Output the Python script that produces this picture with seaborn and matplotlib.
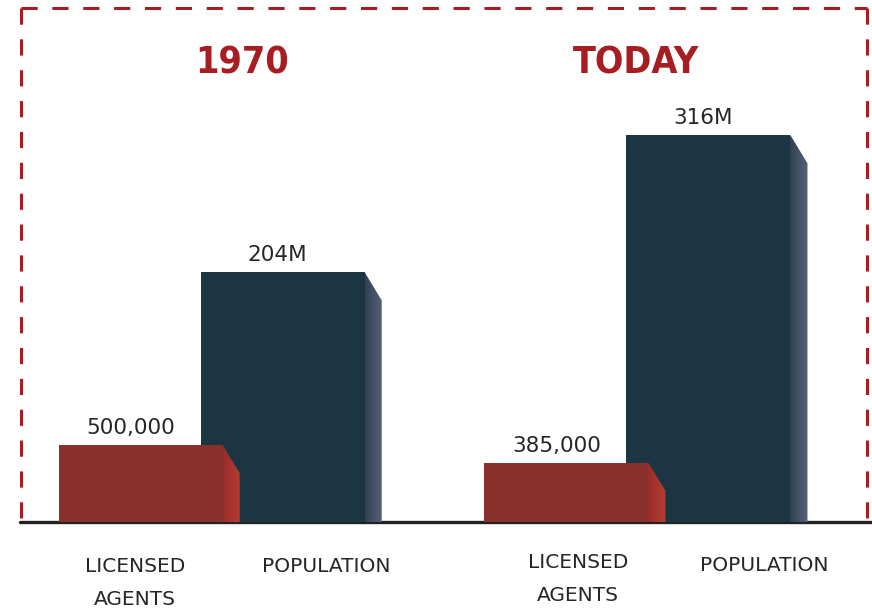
import numpy as np
import matplotlib
matplotlib.use("Agg")
import matplotlib.pyplot as plt
from matplotlib.lines import Line2D
from matplotlib.patches import Polygon
from matplotlib.colors import LinearSegmentedColormap
from matplotlib import font_manager
import seaborn as sns

# ── data ──────────────────────────────────────────────
periods = ["1970", "TODAY"]
agents = [500000, 385000]
population = [204, 316]           # millions
agent_labels = ["500,000", "385,000"]
pop_labels = ["204M", "316M"]
cat_agents = "LICENSED\nAGENTS"
cat_pop = "POPULATION"

# ── style ─────────────────────────────────────────────
sns.set_style("white")
plt.rcParams["font.family"] = ["DejaVu Sans"]

cond = [f for f in font_manager.fontManager.ttflist
        if ("Cond" in f.fname or "Narrow" in f.fname) and "Bold" in f.fname]
title_font = font_manager.FontProperties(fname=cond[0].fname) if cond else None

RED = "#892f2c"
NAVY = "#1b3642"
BORDER = "#a61e22"
TEXT = "#262626"

W, H = 872, 613
fig = plt.figure(figsize=(W / 100, H / 100), dpi=100)

base_px, top_px = 522, 8
ax_h_px = base_px - top_px
ax = fig.add_axes([0, (H - base_px) / H, 1, ax_h_px / H])
ax2 = ax.twinx()

group_px = 425.5
bar_w = 164 / group_px
off = 71 / group_px
side_dx = 17 / group_px
side_drop = 28  # px

groups = np.arange(len(periods))

sns.barplot(x=groups + off, y=population, native_scale=True, width=bar_w,
            color=NAVY, saturation=1, linewidth=0, errorbar=None, ax=ax, zorder=3)
sns.barplot(x=groups - off, y=agents, native_scale=True, width=bar_w,
            color=RED, saturation=1, linewidth=0, errorbar=None, ax=ax2, zorder=3)

pop_lim = (0, 420)
agent_lim = (0, 3.34e6)


def add_sides(axis, ylim, cmap):
    ypp = (ylim[1] - ylim[0]) / ax_h_px
    pad = 2 / group_px
    for p in list(axis.patches):
        x1 = p.get_x() + p.get_width()
        top = p.get_height()
        dy = side_drop * ypp
        verts = [(x1 - pad, 0), (x1 - pad, top), (x1, top),
                 (x1 + side_dx, top - dy), (x1 + side_dx, 0)]
        poly = Polygon(verts, closed=True, facecolor="none", edgecolor="none")
        axis.add_patch(poly)
        grad = np.linspace(0, 1, 64).reshape(1, -1)
        im = axis.imshow(grad, cmap=cmap, extent=(x1 - pad, x1 + side_dx, 0, top),
                         aspect="auto", origin="lower", zorder=2.5)
        im.set_clip_path(poly)


add_sides(ax, pop_lim, LinearSegmentedColormap.from_list("ps", ["#2e3c4d", "#56627a"]))
add_sides(ax2, agent_lim, LinearSegmentedColormap.from_list("as", ["#962a2b", "#b83e31"]))

xl = (-211.5 / group_px, 1 + (W - 637.5) / group_px)
for a, yl in ((ax, pop_lim), (ax2, agent_lim)):
    a.set_xlim(*xl)
    a.set_ylim(*yl)
    a.axis("off")

# baseline
ax.axhline(0, xmin=20 / W, xmax=1, color="#222222", lw=2.4, zorder=1, clip_on=False)

# value labels
for i in groups:
    ax.annotate(pop_labels[i], (i + off, population[i]), xytext=(-4, 5),
                textcoords="offset points", ha="center", va="bottom",
                fontsize=15.5, color=TEXT)
    ax2.annotate(agent_labels[i], (i - off, agents[i]), xytext=(-7, 5),
                 textcoords="offset points", ha="center", va="bottom",
                 fontsize=15.5, color=TEXT)


def fx(px):
    return px / W


def fy(py):
    return 1 - py / H


# period titles
for t, cx in zip(periods, [242, 636]):
    if title_font is not None:
        fp = title_font.copy()
        fp.set_size(27)
        fig.text(fx(cx), fy(64), t, ha="center", va="center",
                 fontproperties=fp, color=BORDER)
    else:
        fig.text(fx(cx), fy(64), t, ha="center", va="center", fontsize=24,
                 fontweight="bold", color=BORDER)

# category labels
for cx, cy, t in [(135, 566, cat_agents), (326, 566, cat_pop),
                  (578, 562, cat_agents), (764, 565, cat_pop)]:
    fig.text(fx(cx), fy(cy - 9), t, ha="center", va="top", fontsize=14.5,
             color=TEXT, linespacing=1.95)

# dashed frame
dash = dict(color=BORDER, lw=2.2, ls=(0, (5.3, 4.8)), transform=fig.transFigure)
fig.add_artist(Line2D([fx(20.5), fx(867)], [fy(7.5), fy(7.5)], **dash))
fig.add_artist(Line2D([fx(20.5), fx(20.5)], [fy(7.5), fy(523)], **dash))
fig.add_artist(Line2D([fx(867), fx(867)], [fy(7.5), fy(521)], **dash))

fig.savefig("out.png", dpi=100, facecolor="white")
